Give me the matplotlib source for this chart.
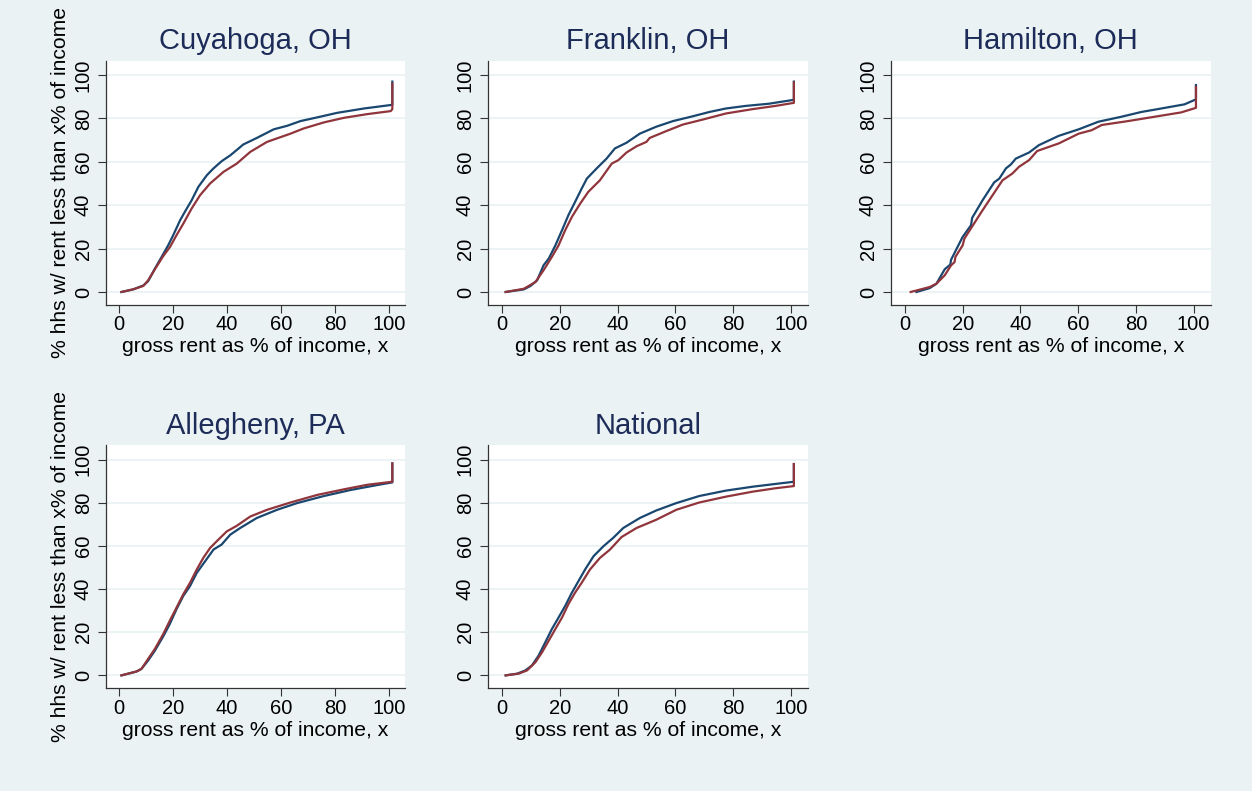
"""
Cumulative share of renter households by gross rent burden, five areas.
"""

import matplotlib
matplotlib.use("Agg")
import matplotlib.pyplot as plt

plt.rcParams["font.family"] = ["Liberation Sans", "DejaVu Sans"]

BG = "#eaf2f3"
NAVY = "#1a476f"
MAROON = "#90353b"
TITLE_COL = "#1c2b58"

titles = ["Cuyahoga, OH", "Franklin, OH", "Hamilton, OH", "Allegheny, PA", "National"]
xticks = [0, 20, 40, 60, 80, 100]
yticks = [0, 20, 40, 60, 80, 100]
xlabel = "gross rent as % of income, x"
ylabel = "% hhs w/ rent less than x% of income"

# Cuyahoga, OH
cuy_navy_x = [0.9, 5.2, 9.0, 10.8, 13.3, 15.7, 18.2, 20.0, 22.6, 24.4, 26.9, 29.4, 32.5,
              35.0, 38.0, 41.2, 44.3, 46.0, 51.0, 57.3, 62.2, 67.2, 73.4, 80.8, 90.7,
              100.6, 101.2, 101.2]
cuy_navy_y = [0, 1.2, 3.0, 5.0, 10.8, 16.0, 21.5, 26.0, 33.0, 37.0, 42.3, 48.5, 53.8,
              57.0, 60.3, 63.0, 66.2, 68.0, 71.0, 75.0, 76.6, 78.8, 80.5, 82.6, 84.6,
              86.2, 86.3, 97.0]
cuy_mar_x = [0.9, 5.2, 9.0, 10.8, 13.3, 16.4, 18.9, 21.3, 23.8, 26.9, 30.0, 33.7, 38.7,
             43.6, 48.6, 54.8, 63.5, 68.4, 75.9, 83.3, 91.9, 100.6, 101.2, 101.2]
cuy_mar_y = [0, 1.2, 2.8, 5.4, 10.5, 16.6, 20.8, 26.2, 31.5, 38.5, 44.6, 50.0, 55.4,
             59.2, 64.6, 69.2, 73.0, 75.4, 78.2, 80.3, 82.0, 83.4, 84.3, 96.0]

# Franklin, OH
fra_navy_x = [1.3, 7.6, 9.9, 12.2, 14.4, 16.2, 18.5, 20.8, 23.0, 25.3, 27.6, 29.4, 32.8,
              36.2, 39.1, 43.1, 47.7, 53.4, 59.2, 66.0, 71.8, 77.5, 84.4, 92.4, 100.5,
              101.0, 101.0]
fra_navy_y = [0, 1.2, 2.8, 5.4, 12.3, 15.4, 21.5, 28.5, 35.4, 41.5, 47.7, 52.3, 57.0,
              61.5, 66.2, 68.8, 73.0, 76.2, 78.8, 81.0, 83.0, 84.6, 85.8, 86.8, 88.5,
              88.6, 97.0]
fra_mar_x = [1.3, 7.6, 11.6, 14.4, 17.3, 19.6, 21.9, 24.2, 27.1, 29.9, 33.9, 38.0, 40.3,
             43.1, 46.6, 50.0, 51.1, 56.9, 62.6, 69.5, 77.5, 86.7, 94.7, 101.0, 101.0]
fra_mar_y = [0, 1.5, 4.6, 10.0, 16.2, 21.5, 28.5, 34.6, 40.8, 46.2, 51.5, 59.2, 60.8,
             64.3, 67.2, 69.2, 71.0, 74.2, 77.2, 79.5, 82.3, 84.3, 85.8, 87.2, 96.6]

# Hamilton, OH
ham_navy_x = [4.0, 8.6, 10.9, 13.8, 15.7, 16.0, 20.0, 22.9, 23.3, 26.9, 30.9, 32.7, 35.0,
              36.7, 38.4, 43.0, 46.4, 53.3, 60.2, 67.0, 75.0, 81.9, 88.8, 96.8, 100.8,
              100.8]
ham_navy_y = [0, 1.8, 3.8, 10.5, 12.6, 14.9, 25.4, 30.8, 34.2, 42.3, 50.5, 52.3, 57.0,
              58.8, 61.5, 64.3, 67.7, 72.0, 75.0, 78.5, 80.8, 83.0, 84.6, 86.5, 88.8,
              95.4]
ham_mar_x = [2.0, 8.6, 10.9, 13.8, 16.0, 17.2, 17.5, 20.0, 20.6, 26.9, 33.8, 37.2, 39.5,
             43.0, 45.8, 53.3, 60.2, 64.7, 68.2, 77.3, 86.5, 95.7, 100.8, 100.8]
ham_mar_y = [0, 2.3, 3.8, 7.7, 12.3, 13.8, 16.2, 21.5, 24.6, 37.7, 51.5, 54.6, 57.7,
             60.8, 65.0, 68.5, 73.0, 74.6, 77.0, 78.8, 80.8, 82.8, 84.9, 94.6]

# Allegheny, PA
all_navy_x = [0.9, 6.5, 8.3, 10.8, 13.3, 16.4, 18.8, 21.3, 23.8, 26.3, 28.8, 31.9, 35.0,
              38.0, 41.2, 44.9, 51.0, 58.5, 65.9, 75.9, 85.8, 95.7, 101.2, 101.2]
all_navy_y = [0, 1.8, 3.0, 6.9, 11.5, 18.1, 23.8, 30.7, 36.8, 41.4, 47.5, 52.9, 58.3,
              60.6, 65.2, 68.3, 72.9, 76.7, 79.8, 83.1, 85.9, 88.2, 89.4, 98.2]
all_mar_x = [0.9, 6.5, 8.3, 10.8, 13.3, 16.4, 18.8, 21.3, 23.8, 26.3, 28.8, 31.2, 33.7,
             36.8, 39.9, 43.6, 48.6, 54.8, 63.5, 73.4, 83.3, 91.9, 101.2, 101.2]
all_mar_y = [0, 1.8, 3.0, 7.7, 12.3, 19.2, 25.3, 31.4, 37.6, 42.9, 49.1, 54.4, 59.0,
             62.9, 66.7, 69.3, 73.6, 76.7, 80.1, 83.6, 86.2, 88.3, 89.7, 98.2]

# National
nat_navy_x = [1.3, 5.3, 8.1, 10.4, 12.7, 15.0, 17.3, 19.6, 21.9, 24.2, 26.5, 28.8, 31.7,
              35.1, 38.5, 42.0, 47.7, 53.4, 60.3, 68.3, 77.5, 86.7, 94.7, 101.0, 101.0]
nat_navy_y = [0, 0.8, 2.3, 4.6, 9.2, 15.3, 21.5, 26.8, 32.2, 38.3, 43.7, 49.1, 55.2,
              59.8, 63.7, 68.3, 72.9, 76.4, 79.8, 83.1, 85.6, 87.4, 88.7, 89.7, 97.9]
nat_mar_x = [1.3, 5.8, 8.7, 11.6, 13.9, 16.2, 18.5, 20.8, 23.0, 25.3, 27.6, 30.5, 33.9,
             37.4, 41.4, 46.6, 53.4, 60.3, 68.3, 77.5, 86.7, 94.7, 101.0, 101.0]
nat_mar_y = [0, 0.8, 2.3, 6.1, 10.7, 16.1, 21.5, 26.8, 33.0, 38.3, 42.9, 49.1, 54.4,
             58.3, 64.1, 68.3, 72.1, 76.7, 80.1, 82.8, 85.1, 86.7, 87.7, 97.9]

navy_series = [(cuy_navy_x, cuy_navy_y), (fra_navy_x, fra_navy_y), (ham_navy_x, ham_navy_y),
               (all_navy_x, all_navy_y), (nat_navy_x, nat_navy_y)]
maroon_series = [(cuy_mar_x, cuy_mar_y), (fra_mar_x, fra_mar_y), (ham_mar_x, ham_mar_y),
                 (all_mar_x, all_mar_y), (nat_mar_x, nat_mar_y)]

# axes boxes in figure fractions [left, bottom, width, height]
boxes = [
    [0.0847, 0.6144, 0.2388, 0.3085],
    [0.3898, 0.6144, 0.2556, 0.3085],
    [0.7117, 0.6144, 0.2553, 0.3085],
    [0.0847, 0.1298, 0.2388, 0.3070],
    [0.3898, 0.1298, 0.2556, 0.3070],
]

fig = plt.figure(figsize=(12.52, 7.91), dpi=100, facecolor=BG)

for i, box in enumerate(boxes):
    ax = fig.add_axes(box)
    ax.set_facecolor("white")
    for y in yticks:
        ax.axhline(y, color=BG, lw=1.3, zorder=0)
    nx, ny = navy_series[i]
    mx, my = maroon_series[i]
    ax.plot(nx, ny, color=NAVY, lw=1.6, zorder=2)
    ax.plot(mx, my, color=MAROON, lw=1.6, zorder=3)

    ax.set_xlim(-4.8, 105.9)
    ax.set_ylim(-6, 106.5)
    ax.set_xticks(xticks)
    ax.set_yticks(yticks)
    ax.tick_params(axis="both", labelsize=14.5, length=5.5, width=0.8,
                   color="#333333", pad=2)
    ax.tick_params(axis="y", pad=4)
    for lab in ax.get_yticklabels():
        lab.set_rotation(90)
        lab.set_va("center")
    for side in ["top", "right"]:
        ax.spines[side].set_visible(False)
    for side in ["left", "bottom"]:
        ax.spines[side].set_color("#333333")
        ax.spines[side].set_linewidth(0.9)

    ax.set_title(titles[i], fontsize=21, color=TITLE_COL, pad=8.5)
    ax.set_xlabel(xlabel, fontsize=15.2, labelpad=2)
    if i in (0, 3):
        ax.set_ylabel(ylabel, fontsize=15.2, labelpad=3)

fig.savefig("out.png", dpi=100, facecolor=BG)
